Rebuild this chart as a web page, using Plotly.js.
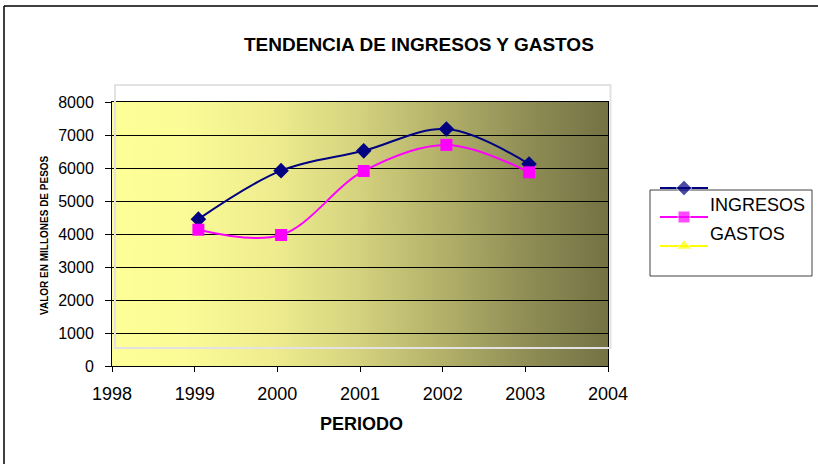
<!DOCTYPE html>
<html>
<head>
<meta charset="utf-8">
<script src="https://cdn.plot.ly/plotly-3.0.1.min.js"></script>
<style>html,body{margin:0;padding:0;background:#fff;}#chart{width:818px;height:464px;}</style>
</head>
<body>
<div id="chart"></div>
<script>
// ---- data ----
const periodo = [1999.045, 2000.045, 2001.045, 2002.045, 2003.045];
const ingresos = [4450, 5920, 6520, 7180, 6120];
const gastos = [4130, 3970, 5910, 6700, 5870];
const seriesNames = ["INGRESOS", "GASTOS", ""];
const legendSymbols = ["diamond", "square", "triangle-up"];
const seriesColors = ["#000080", "#FF00FF", "#FFFF00"];
const xRange = [1998, 2004];
const yRange = [0, 8000];
const chartTitle = "TENDENCIA DE INGRESOS Y GASTOS";
const xTitle = "PERIODO";
const yTitle = "VALOR EN MILLONES DE PESOS";

// ---- layout helpers ----
const W = 818, H = 464;
const px = v => v / W;
const py = v => 1 - v / H;
const FONT = "Liberation Sans, Arial, sans-serif";

// gradient background image
const cv = document.createElement("canvas");
cv.width = 500; cv.height = 10;
const ctx = cv.getContext("2d");
const g = ctx.createLinearGradient(0, 0, 500, 0);
g.addColorStop(0.00, "rgb(255,255,153)");
g.addColorStop(0.15, "rgb(251,251,151)");
g.addColorStop(0.33, "rgb(238,236,142)");
g.addColorStop(0.50, "rgb(212,210,126)");
g.addColorStop(0.67, "rgb(178,176,105)");
g.addColorStop(0.83, "rgb(145,143,86)");
g.addColorStop(1.00, "rgb(116,114,68)");
ctx.fillStyle = g;
ctx.fillRect(0, 0, 500, 10);
const bgURL = cv.toDataURL("image/png");

const markerSizes = [12, 12, 13];

const traces = [
  {
    x: periodo, y: ingresos, type: "scatter", mode: "lines+markers",
    name: seriesNames[0],
    line: {color: seriesColors[0], width: 2, shape: "spline", smoothing: 1},
    marker: {symbol: legendSymbols[0], size: markerSizes[0], color: seriesColors[0]},
    showlegend: false, cliponaxis: false
  },
  {
    x: periodo, y: gastos, type: "scatter", mode: "lines+markers",
    name: seriesNames[1],
    line: {color: seriesColors[1], width: 2, shape: "spline", smoothing: 1},
    marker: {symbol: legendSymbols[1], size: markerSizes[1], color: seriesColors[1]},
    showlegend: false, cliponaxis: false
  }
];

// manual legend entries on an auxiliary axis pair
seriesNames.forEach((n, i) => {
  traces.push({
    x: [0, 0.5, 1], y: [i, i, i], xaxis: "x2", yaxis: "y2",
    type: "scatter", mode: "lines+markers", showlegend: false, hoverinfo: "skip",
    line: {color: seriesColors[i], width: 2},
    marker: {symbol: legendSymbols[i], size: [0, markerSizes[i], 0], color: seriesColors[i]},
    cliponaxis: false
  });
});

const annotations = [
  {text: "<b>" + chartTitle + "</b>", xref: "paper", yref: "paper", x: px(419), y: py(44),
   showarrow: false, xanchor: "center", yanchor: "middle", font: {family: FONT, size: 19, color: "#000"}},
  {text: "<b>" + xTitle + "</b>", xref: "paper", yref: "paper", x: px(361), y: py(424),
   showarrow: false, xanchor: "center", yanchor: "middle", font: {family: FONT, size: 18, color: "#000"}},
  {text: "<b>" + yTitle + "</b>", xref: "paper", yref: "paper", x: px(44), y: py(235),
   showarrow: false, xanchor: "center", yanchor: "middle", textangle: -90, font: {family: FONT, size: 10, color: "#000"}}
];
seriesNames.forEach((n, i) => {
  if (n) annotations.push({text: n, xref: "x2", yref: "y2", x: 1, y: i + 0.6, showarrow: false,
    xanchor: "left", yanchor: "middle", xshift: 0, font: {family: FONT, size: 18, color: "#000"}});
});

const shapes = [
  // outer chart border (left & top visible)
  {type: "line", xref: "paper", yref: "paper", x0: px(4), x1: px(4), y0: py(6), y1: py(480), line: {color: "#000", width: 1.5}},
  {type: "line", xref: "paper", yref: "paper", x0: px(4), x1: px(830), y0: py(6), y1: py(6), line: {color: "#000", width: 1.5}},
  // faint frame
  {type: "rect", xref: "paper", yref: "paper", x0: px(115), x1: px(610.5), y0: py(348), y1: py(85), layer: "above",
   line: {color: "#E2E2E2", width: 2}, fillcolor: "rgba(0,0,0,0)"},
  // legend box
  {type: "rect", xref: "paper", yref: "paper", x0: px(650), x1: px(812), y0: py(276), y1: py(190), layer: "below",
   line: {color: "#404040", width: 1}, fillcolor: "#fff"}
];

const layout = {
  width: W, height: H,
  margin: {l: 0, r: 0, t: 0, b: 0, pad: 0},
  paper_bgcolor: "#fff", plot_bgcolor: "rgba(0,0,0,0)",
  showlegend: false,
  font: {family: FONT, color: "#000"},
  xaxis: {
    domain: [px(112), px(608)], range: xRange, dtick: 1, tick0: 1998,
    showgrid: false, zeroline: false, showline: true, linecolor: "#000", linewidth: 1, mirror: true,
    ticks: "outside", ticklen: 5, tickcolor: "#000", tickwidth: 1,
    tickfont: {family: FONT, size: 18, color: "#000"}, ticklabelstandoff: 6, fixedrange: true
  },
  yaxis: {
    domain: [py(366), py(102)], range: yRange, dtick: 1000, tick0: 0,
    showgrid: true, gridcolor: "#000", gridwidth: 1, zeroline: false,
    showline: true, linecolor: "#000", linewidth: 1, mirror: true,
    ticks: "outside", ticklen: 6, tickcolor: "#000", tickwidth: 1,
    tickfont: {family: FONT, size: 16, color: "#000"}, ticklabelstandoff: 8, fixedrange: true
  },
  xaxis2: {domain: [px(660), px(708)], range: [0, 1], visible: false, anchor: "y2", fixedrange: true},
  yaxis2: {domain: [py(260.5), py(173.5)], range: [2.5, -0.5], visible: false, anchor: "x2", fixedrange: true},
  images: [{source: bgURL, xref: "x", yref: "y", x: xRange[0], y: yRange[1],
    sizex: xRange[1] - xRange[0], sizey: yRange[1] - yRange[0], sizing: "stretch", layer: "below",
    xanchor: "left", yanchor: "top"}],
  annotations: annotations,
  shapes: shapes
};

Plotly.newPlot("chart", traces, layout, {displayModeBar: false, staticPlot: true});
</script>
</body>
</html>
